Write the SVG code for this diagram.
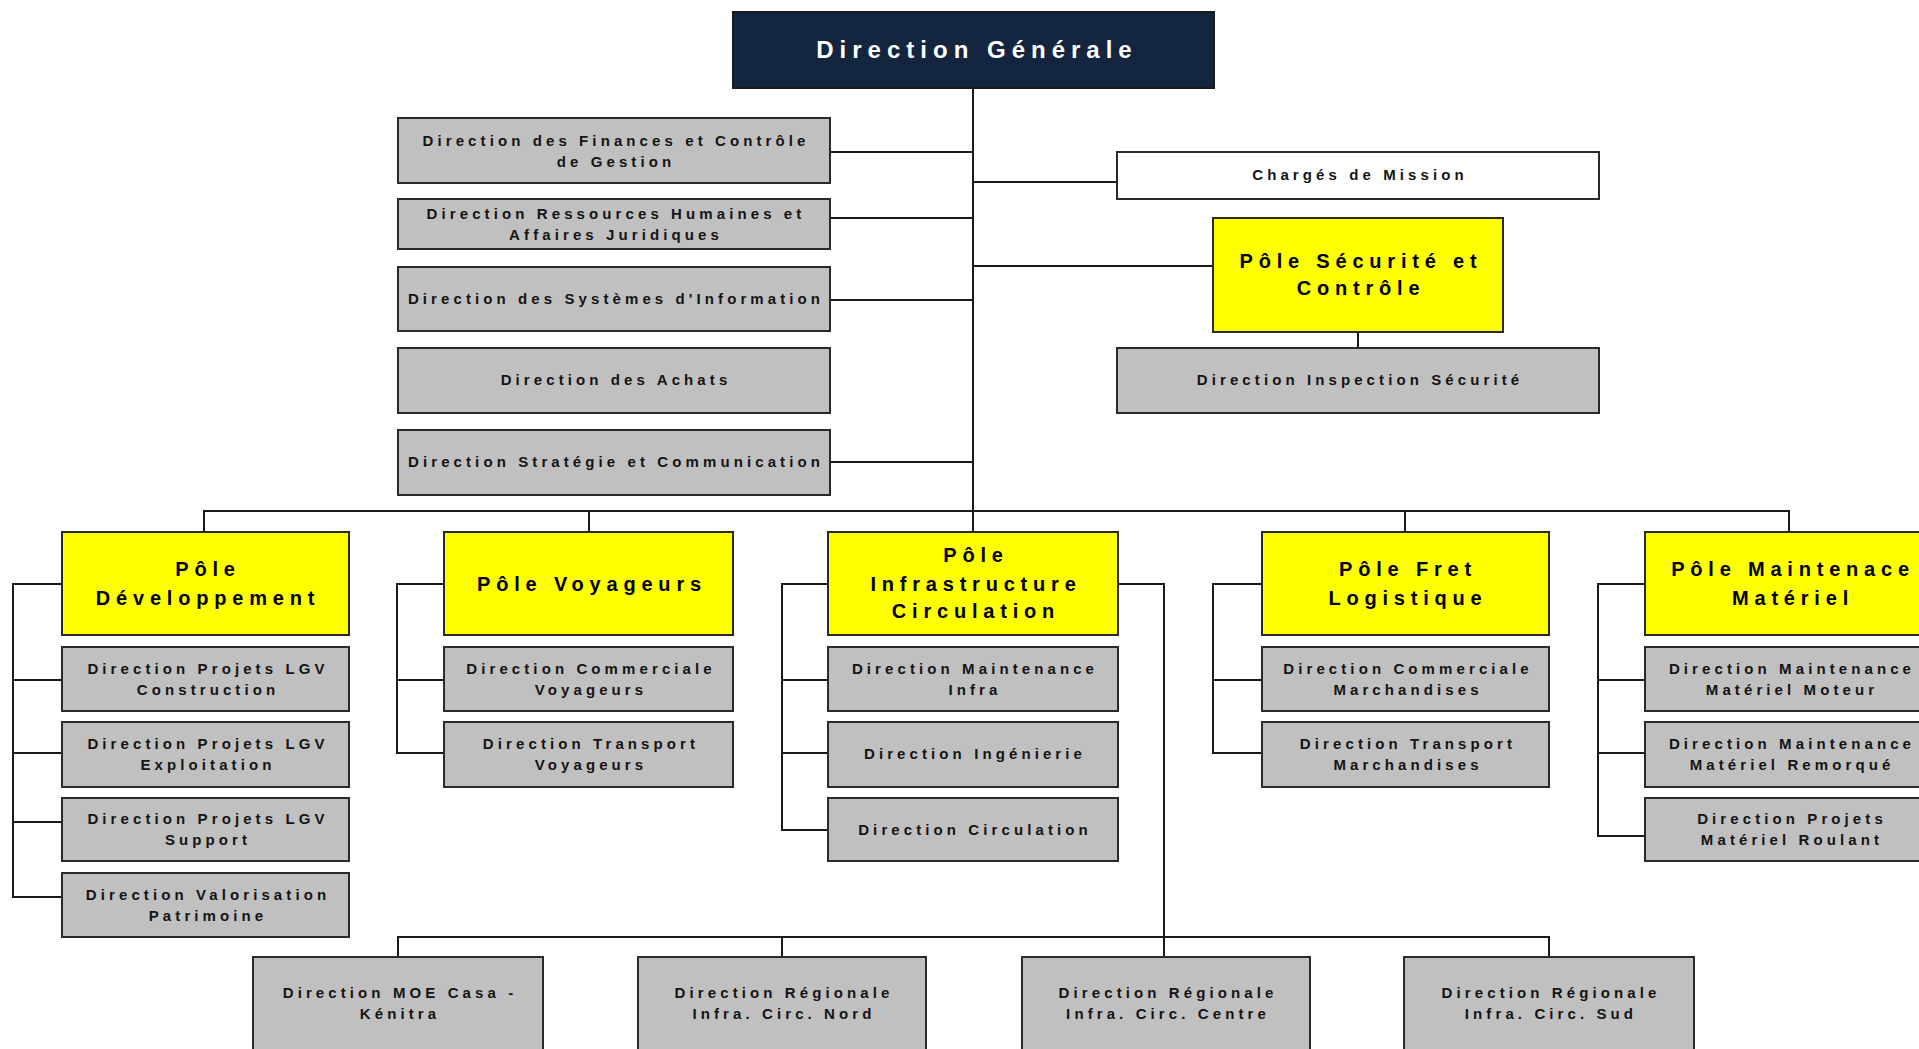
<svg xmlns="http://www.w3.org/2000/svg" width="1919" height="1049" viewBox="0 0 1919 1049">
<style>
.bg{fill:#ffffff}
.box{fill:#C0C0C0;stroke:#2a2a2a;stroke-width:2}
.pole{fill:#FFFF00;stroke:#2a2a2a;stroke-width:2}
.wbox{fill:#ffffff;stroke:#2a2a2a;stroke-width:2}
.dg{fill:#13253F;stroke:#1a1a1a;stroke-width:2}
.ln{stroke:#1a1a1a;stroke-width:2;fill:none}
.t{font-family:"Liberation Sans",Arial,sans-serif;font-size:15px;font-weight:bold;letter-spacing:4.1px;fill:#141414;text-anchor:middle}
.tp{font-family:"Liberation Sans",Arial,sans-serif;font-size:20px;font-weight:bold;letter-spacing:5.8px;fill:#000;text-anchor:middle}
.tdg{font-family:"Liberation Sans",Arial,sans-serif;font-size:24px;font-weight:bold;letter-spacing:6px;fill:#ffffff;text-anchor:middle}
</style>
<rect class="bg" x="0" y="0" width="1919" height="1049"/>

<g id="connectors">
  <path class="ln" d="M973 88V532"/>
  <path class="ln" d="M830 152H973M830 218H973M830 300H973M830 462H973"/>
  <path class="ln" d="M973 182H1117M973 266H1213M1358 332V348"/>
  <path class="ln" d="M204 532V511H1789V532M589 511V532M1405 511V532"/>
  <path class="ln" d="M62 584H13V897H62M13 680H62M13 753H62M13 822H62"/>
  <path class="ln" d="M444 584H397V753H444M397 680H444"/>
  <path class="ln" d="M828 584H782V830H828M782 680H828M782 753H828"/>
  <path class="ln" d="M1262 584H1213V753H1262M1213 680H1262"/>
  <path class="ln" d="M1645 584H1598V836H1645M1598 680H1645M1598 753H1645"/>
  <path class="ln" d="M1118 584H1164V957M398 957V937H1549V957M782 937V957"/>
</g>

<g id="dg"><rect class="dg" x="733" y="12" width="481" height="76"/><text class="tdg" x="977" y="58">Direction Générale</text></g>

<g id="finances"><rect class="box" x="398" y="118" width="432" height="65"/><text class="t" x="616" y="146">Direction des Finances et Contrôle</text><text class="t" x="616" y="167">de Gestion</text></g>
<g id="rh"><rect class="box" x="398" y="199" width="432" height="50"/><text class="t" x="616" y="219">Direction Ressources Humaines et</text><text class="t" x="616" y="240">Affaires Juridiques</text></g>
<g id="si"><rect class="box" x="398" y="267" width="432" height="64"/><text class="t" x="616" y="304">Direction des Systèmes d'Information</text></g>
<g id="achats"><rect class="box" x="398" y="348" width="432" height="65"/><text class="t" x="616" y="385">Direction des Achats</text></g>
<g id="strategie"><rect class="box" x="398" y="430" width="432" height="65"/><text class="t" x="616" y="467">Direction Stratégie et Communication</text></g>

<g id="charges"><rect class="wbox" x="1117" y="152" width="482" height="47"/><text class="t" x="1360" y="180">Chargés de Mission</text></g>
<g id="pole-securite"><rect class="pole" x="1213" y="218" width="290" height="114"/><text class="tp" x="1361" y="268">Pôle Sécurité et</text><text class="tp" x="1361" y="295">Contrôle</text></g>
<g id="inspection"><rect class="box" x="1117" y="348" width="482" height="65"/><text class="t" x="1360" y="385">Direction Inspection Sécurité</text></g>

<g id="pole-dev"><rect class="pole" x="62" y="532" width="287" height="103"/><text class="tp" x="208" y="576">Pôle</text><text class="tp" x="208" y="605">Développement</text></g>
<g id="lgv-construction"><rect class="box" x="62" y="647" width="287" height="64"/><text class="t" x="208" y="674">Direction Projets LGV</text><text class="t" x="208" y="695">Construction</text></g>
<g id="lgv-exploitation"><rect class="box" x="62" y="722" width="287" height="65"/><text class="t" x="208" y="749">Direction Projets LGV</text><text class="t" x="208" y="770">Exploitation</text></g>
<g id="lgv-support"><rect class="box" x="62" y="798" width="287" height="63"/><text class="t" x="208" y="824">Direction Projets LGV</text><text class="t" x="208" y="845">Support</text></g>
<g id="valorisation"><rect class="box" x="62" y="873" width="287" height="64"/><text class="t" x="208" y="900">Direction Valorisation</text><text class="t" x="208" y="921">Patrimoine</text></g>

<g id="pole-voyageurs"><rect class="pole" x="444" y="532" width="289" height="103"/><text class="tp" x="592" y="591">Pôle Voyageurs</text></g>
<g id="com-voyageurs"><rect class="box" x="444" y="647" width="289" height="64"/><text class="t" x="591" y="674">Direction Commerciale</text><text class="t" x="591" y="695">Voyageurs</text></g>
<g id="transport-voyageurs"><rect class="box" x="444" y="722" width="289" height="65"/><text class="t" x="591" y="749">Direction Transport</text><text class="t" x="591" y="770">Voyageurs</text></g>

<g id="pole-infra"><rect class="pole" x="828" y="532" width="290" height="103"/><text class="tp" x="976" y="562">Pôle</text><text class="tp" x="976" y="591">Infrastructure</text><text class="tp" x="976" y="618">Circulation</text></g>
<g id="maint-infra"><rect class="box" x="828" y="647" width="290" height="64"/><text class="t" x="975" y="674">Direction Maintenance</text><text class="t" x="975" y="695">Infra</text></g>
<g id="ingenierie"><rect class="box" x="828" y="722" width="290" height="65"/><text class="t" x="975" y="759">Direction Ingénierie</text></g>
<g id="circulation"><rect class="box" x="828" y="798" width="290" height="63"/><text class="t" x="975" y="835">Direction Circulation</text></g>

<g id="pole-fret"><rect class="pole" x="1262" y="532" width="287" height="103"/><text class="tp" x="1408" y="576">Pôle Fret</text><text class="tp" x="1408" y="605">Logistique</text></g>
<g id="com-marchandises"><rect class="box" x="1262" y="647" width="287" height="64"/><text class="t" x="1408" y="674">Direction Commerciale</text><text class="t" x="1408" y="695">Marchandises</text></g>
<g id="transport-marchandises"><rect class="box" x="1262" y="722" width="287" height="65"/><text class="t" x="1408" y="749">Direction Transport</text><text class="t" x="1408" y="770">Marchandises</text></g>

<g id="pole-maint"><rect class="pole" x="1645" y="532" width="290" height="103"/><text class="tp" x="1793" y="576">Pôle Maintenace</text><text class="tp" x="1793" y="605">Matériel</text></g>
<g id="maint-moteur"><rect class="box" x="1645" y="647" width="290" height="64"/><text class="t" x="1792" y="674">Direction Maintenance</text><text class="t" x="1792" y="695">Matériel Moteur</text></g>
<g id="maint-remorque"><rect class="box" x="1645" y="722" width="290" height="65"/><text class="t" x="1792" y="749">Direction Maintenance</text><text class="t" x="1792" y="770">Matériel Remorqué</text></g>
<g id="projets-roulant"><rect class="box" x="1645" y="798" width="290" height="63"/><text class="t" x="1792" y="824">Direction Projets</text><text class="t" x="1792" y="845">Matériel Roulant</text></g>

<g id="moe"><rect class="box" x="253" y="957" width="290" height="110"/><text class="t" x="400" y="998">Direction MOE Casa -</text><text class="t" x="400" y="1019">Kénitra</text></g>
<g id="dr-nord"><rect class="box" x="638" y="957" width="288" height="110"/><text class="t" x="784" y="998">Direction Régionale</text><text class="t" x="784" y="1019">Infra. Circ. Nord</text></g>
<g id="dr-centre"><rect class="box" x="1022" y="957" width="288" height="110"/><text class="t" x="1168" y="998">Direction Régionale</text><text class="t" x="1168" y="1019">Infra. Circ. Centre</text></g>
<g id="dr-sud"><rect class="box" x="1404" y="957" width="290" height="110"/><text class="t" x="1551" y="998">Direction Régionale</text><text class="t" x="1551" y="1019">Infra. Circ. Sud</text></g>
</svg>
